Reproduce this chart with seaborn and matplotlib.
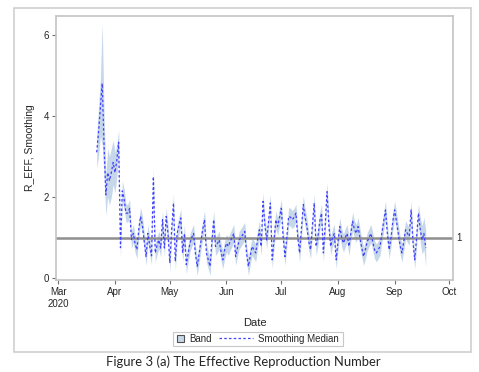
import pandas as pd
import matplotlib.pyplot as plt
from matplotlib.lines import Line2D
from matplotlib.patches import Patch, Rectangle
from matplotlib.legend_handler import HandlerPatch
import seaborn as sns

# --- Data (one value per day from 2020-03-22) ---
start_date = "2020-03-22"
median_vals = [
    3.1, 3.6, 4.2, 4.8, 3.3, 2.05, 2.6, 2.4, 2.6, 2.85,
    2.6, 2.9, 3.35, 0.75, 2.15, 1.95, 1.6, 1.6, 1.72, 0.95,
    1.1, 0.85, 0.7, 1.2, 1.52, 1.3, 0.9, 0.53, 1.1, 0.8,
    0.55, 2.5, 0.62, 0.8, 0.94, 0.74, 1.44, 0.74, 1.52, 1.1,
    0.37, 1.2, 1.85, 0.41, 1.1, 1.3, 1.48, 0.62, 1.1, 0.33,
    0.6, 0.86, 1.0, 1.1, 0.6, 0.29, 0.6, 0.9, 1.2, 1.44,
    0.62, 0.45, 0.29, 0.9, 1.44, 0.78, 0.85, 0.94, 0.65, 0.45,
    0.7, 0.86, 0.78, 0.9, 1.0, 1.1, 0.53, 0.75, 0.94, 1.0,
    1.08, 1.15, 0.6, 0.29, 0.55, 0.78, 0.7, 0.62, 0.95, 1.19,
    0.78, 1.89, 1.3, 0.94, 1.4, 1.85, 0.45, 0.95, 1.44, 1.27,
    1.5, 1.72, 1.0, 0.53, 1.0, 1.52, 1.5, 1.44, 1.5, 1.6,
    1.0, 0.62, 1.2, 1.81, 1.5, 1.27, 0.9, 0.7, 1.3, 1.85,
    0.78, 1.0, 1.4, 1.6, 0.62, 1.3, 2.13, 1.3, 0.78, 1.0,
    1.1, 0.45, 0.9, 1.27, 1.0, 0.86, 1.0, 1.1, 0.78, 1.1,
    1.4, 1.2, 1.1, 1.27, 1.0, 0.75, 0.53, 0.7, 0.9, 1.0,
    1.1, 0.9, 0.7, 0.62, 0.7, 0.78, 1.1, 1.4, 1.68, 1.1,
    0.7, 1.0, 1.4, 1.68, 1.4, 1.1, 0.8, 0.62, 0.9, 1.19,
    1.1, 1.03, 1.68, 0.9, 0.45, 1.0, 1.6, 1.2, 0.94, 1.1,
    0.74,
]
spread_early = [0.4, 0.6, 0.7, 1.5, 0.8, 0.5, 0.6, 0.6, 0.6, 0.55,
                0.5, 0.4, 0.3, 0.25, 0.25, 0.25]
spread_rest = 0.22
spread_end = [0.3, 0.35, 0.4, 0.45]
ref_level = 1
month_labels = ["Mar\n2020", "Apr", "May", "Jun", "Jul", "Aug", "Sep", "Oct"]

spread = spread_early + [spread_rest] * (len(median_vals) - len(spread_early) - len(spread_end)) + spread_end
df = pd.DataFrame({
    "date": pd.date_range(start_date, periods=len(median_vals), freq="D"),
    "median": median_vals,
    "spread": spread,
})
df["lower"] = df["median"] - df["spread"]
df["upper"] = df["median"] + df["spread"]


class SquareRight(HandlerPatch):
    # small square sitting right next to the label
    def create_artists(self, legend, orig_handle, xdescent, ydescent,
                       width, height, fontsize, trans):
        s = height * 0.95
        r = Rectangle((width - xdescent - s, -ydescent + (height - s) / 2), s, s,
                      facecolor=orig_handle.get_facecolor(),
                      edgecolor=orig_handle.get_edgecolor(),
                      lw=orig_handle.get_linewidth(), transform=trans)
        return [r]


sns.set_style("white")
plt.rcParams["font.family"] = ["Liberation Sans", "DejaVu Sans"]

fig = plt.figure(figsize=(4.79, 3.72), dpi=100)
ax = fig.add_axes([0.117, 0.247, 0.829, 0.71])

band_color = "#c6d7ea"
line_color = "#4040ff"
dash = (0, (2, 1.8))

ax.fill_between(df["date"], df["lower"], df["upper"], color=band_color, lw=0)
sns.lineplot(data=df, x="date", y="median", ax=ax, color=line_color,
             lw=0.9, linestyle=dash)
ax.axhline(ref_level, color="#8e8e8e", lw=1.8, zorder=1)
ax.text(1.008, ref_level, "1", transform=ax.get_yaxis_transform(),
        va="center", ha="left", fontsize=7)

ax.set_xlim(pd.Timestamp("2020-02-28 18:00"), pd.Timestamp("2020-10-03"))
ax.set_ylim(-0.05, 6.46)
ax.set_yticks([0, 2, 4, 6])
ticks = pd.date_range("2020-03-01", "2020-10-01", freq="MS")
ax.set_xticks(ticks)
ax.set_xticklabels(month_labels)
ax.tick_params(axis="both", labelsize=7, length=3, width=0.8,
               color="#707070", direction="out", pad=2,
               bottom=True, left=True)
for s in ax.spines.values():
    s.set_color("#c4c4c4")
    s.set_linewidth(1.2)

ax.set_xlabel("Date", fontsize=8, labelpad=7)
ax.set_ylabel("R_EFF, Smoothing", fontsize=7.5, labelpad=6)

band_handle = Patch(facecolor=band_color, edgecolor="#505050", lw=0.8)
line_handle = Line2D([0], [0], color=line_color, lw=0.9, linestyle=dash)
leg = fig.legend([band_handle, line_handle], ["Band", "Smoothing Median"],
                 loc="center", bbox_to_anchor=(0.51, 0.089), ncol=2, fontsize=7,
                 frameon=False, handlelength=3.5, columnspacing=0.8,
                 handletextpad=0.5, handler_map={Patch: SquareRight()})

# frame drawn by hand around the visible legend content
fig.canvas.draw()
inv = fig.transFigure.inverted()
t0 = leg.get_texts()[0].get_window_extent()
t1 = leg.get_texts()[1].get_window_extent()
x0 = t0.x0 - 16
x1 = t1.x1 + 4
y0 = min(t0.y0, t1.y0) - 2
y1 = max(t0.y1, t1.y1) + 2
(fx0, fy0), (fx1, fy1) = inv.transform([(x0, y0), (x1, y1)])
fig.patches.append(Rectangle((fx0, fy0), fx1 - fx0, fy1 - fy0,
                             transform=fig.transFigure, fill=False,
                             edgecolor="#c8c8c8", lw=0.8))

# outer border
fig.patches.append(Rectangle((14 / 479, 1 - 352 / 372), 457 / 479, 344 / 372,
                             transform=fig.transFigure, fill=False,
                             edgecolor="#d0d0d0", lw=1.2))

fig.text(0.507, 0.027, "Figure 3 (a) The Effective Reproduction Number",
         ha="center", va="center", fontsize=9.4, family=["Lato", "DejaVu Sans"])

fig.savefig("out.png", dpi=100)
